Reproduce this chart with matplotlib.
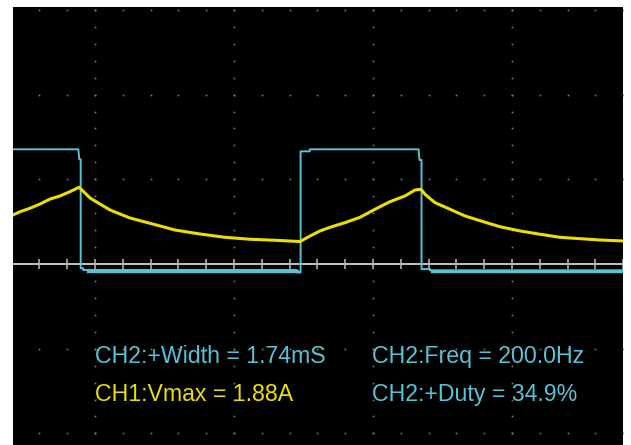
import numpy as np
import matplotlib
matplotlib.use("Agg")
import matplotlib.pyplot as plt

# time in ms (2 ms/div), level in divisions
ch2_t = [-1.18, -0.240, -0.226, -0.206, -0.206, -0.17, -0.17, 2.90, 2.90, 2.95,
         2.958, 2.958, 3.09, 3.09, 4.655, 4.669, 4.698, 4.698, 4.82, 4.82, 7.60]
ch2_v = [1.354, 1.354, 1.236, 1.236, -0.05, -0.05, -0.071, -0.071, -0.10, -0.10,
         -0.10, 1.33, 1.33, 1.354, 1.354, 1.228, 1.228, -0.06, -0.06, -0.075, -0.075]

# thicker (noisy) stretches of the low level
ch2_low_t = [[-0.10, 2.90], [4.85, 7.60]]
ch2_low_v = [-0.08, -0.082]

ch1_t = [-1.180, -1.079, -0.935, -0.791, -0.647, -0.504, -0.360, -0.230,
         -0.144, -0.072, 0.0, 0.072, 0.216, 0.360, 0.504, 0.719, 0.935, 1.151,
         1.511, 1.871, 2.230, 2.590, 2.950,
         3.094, 3.237, 3.381, 3.597, 3.813, 4.029, 4.245, 4.460, 4.604, 4.691,
         4.748, 4.892, 5.108, 5.324, 5.540, 5.827, 6.115, 6.403, 6.691, 6.978,
         7.266, 7.597]
ch1_v = [0.579, 0.617, 0.658, 0.708, 0.767, 0.803, 0.854, 0.906,
         0.838, 0.779, 0.744, 0.708, 0.638, 0.590, 0.543, 0.496, 0.449, 0.401,
         0.354, 0.315, 0.292, 0.280, 0.265,
         0.331, 0.390, 0.433, 0.488, 0.551, 0.646, 0.736, 0.803, 0.874, 0.882,
         0.823, 0.724, 0.646, 0.567, 0.511, 0.440, 0.390, 0.351, 0.315, 0.299,
         0.283, 0.272]

readouts = [("CH2:+Width = 1.74mS", "ch2"), ("CH2:Freq = 200.0Hz", "ch2"),
            ("CH1:Vmax = 1.88A", "ch1"), ("CH2:+Duty = 34.9%", "ch2")]

cyan = "#58c3d7"
yellow = "#eadf00"
colors = {"ch1": yellow, "ch2": cyan}

fig = plt.figure(figsize=(6.31, 4.45), dpi=100, facecolor="white")
ax = fig.add_axes([13 / 631, 0, 610 / 631, 438 / 445])
ax.set_facecolor("black")
ax.set_xlim(-1.18, 7.597)
ax.set_ylim(-2.137, 3.034)
ax.set_xticks([])
ax.set_yticks([])
for s in ax.spines.values():
    s.set_visible(False)

# graticule dots
dot = "#7a7a7a"
rows = [3, 2, 1, -1, -2]
xs = np.arange(-0.8, 7.61, 0.4)
for r in rows:
    ax.plot(xs, np.full(xs.size, r), "s", ms=1.2, color=dot, mew=0)
ys = np.arange(-2.2, 3.01, 0.2)
for c in [0, 2, 4, 6]:
    ax.plot(np.full(ys.size, c), ys, "s", ms=1.2, color=dot, mew=0)

# centre axis with ticks
ax.axhline(0, color="#c4c4c4", lw=1.4, zorder=2)
ax.vlines(np.arange(-0.8, 7.61, 0.4), -0.06, 0.06, color="#b0b0b0", lw=1.2, zorder=2)

ax.plot(ch2_t, ch2_v, color=cyan, lw=1.4, zorder=3)
for seg, v in zip(ch2_low_t, ch2_low_v):
    ax.plot(seg, [v, v], color=cyan, lw=2.4, zorder=3)
ax.plot(ch1_t, ch1_v, color=yellow, lw=2.2, zorder=4)

pos = [(0.1344, 0.187), (0.5885, 0.187), (0.1344, 0.101), (0.5885, 0.101)]
for (txt, ch), (px, py) in zip(readouts, pos):
    ax.text(px, py, txt, transform=ax.transAxes, color=colors[ch],
            fontsize=16.7, family="Liberation Sans", va="baseline", ha="left")

fig.savefig("out.png", dpi=100, facecolor="white")
